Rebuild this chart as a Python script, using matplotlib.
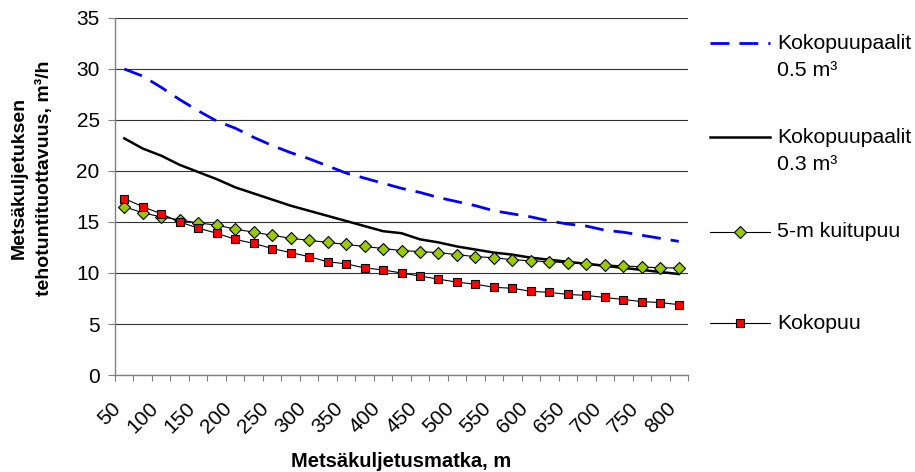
import numpy as np
import matplotlib.pyplot as plt
import matplotlib.transforms as mtransforms
from matplotlib.lines import Line2D

plt.rcParams['font.family'] = ['Liberation Sans', 'DejaVu Sans']

# forwarding distance categories (m)
distance = [50, 75, 100, 125, 150, 175, 200, 225, 250, 275, 300, 325, 350, 375, 400,
            425, 450, 475, 500, 525, 550, 575, 600, 625, 650, 675, 700, 725, 750, 775, 800]

# productivity, m3 per effective hour
paalit_05 = [30.0, 29.3, 28.2, 27.0, 25.9, 24.9, 24.2, 23.3, 22.5, 21.8, 21.2, 20.5, 19.8,
             19.3, 18.8, 18.3, 17.9, 17.4, 17.0, 16.6, 16.1, 15.8, 15.5, 15.1, 14.8, 14.6,
             14.2, 14.0, 13.7, 13.4, 13.1]
paalit_03 = [23.2, 22.2, 21.5, 20.6, 19.9, 19.2, 18.4, 17.8, 17.2, 16.6, 16.1, 15.6, 15.1,
             14.6, 14.1, 13.9, 13.3, 13.0, 12.6, 12.3, 12.0, 11.8, 11.5, 11.3, 11.1, 10.9,
             10.7, 10.5, 10.3, 10.1, 9.9]
kuitupuu_5m = [16.5, 15.9, 15.5, 15.2, 14.9, 14.7, 14.3, 14.0, 13.7, 13.4, 13.2, 13.0, 12.8,
               12.6, 12.4, 12.2, 12.1, 12.0, 11.8, 11.6, 11.5, 11.3, 11.2, 11.1, 11.0, 10.9,
               10.8, 10.7, 10.6, 10.5, 10.5]
kokopuu = [17.3, 16.5, 15.8, 15.0, 14.4, 13.9, 13.3, 12.9, 12.4, 12.0, 11.6, 11.1, 10.9,
           10.5, 10.3, 10.0, 9.7, 9.4, 9.1, 8.9, 8.6, 8.5, 8.2, 8.1, 7.9, 7.8, 7.6, 7.4,
           7.2, 7.1, 6.9]

series_names = ['Kokopuupaalit\n0.5 m³', 'Kokopuupaalit\n0.3 m³', '5-m kuitupuu', 'Kokopuu']

x = np.arange(len(distance))

fig = plt.figure(figsize=(9.15, 4.72), dpi=100)
ax = fig.add_axes([0.1257, 0.2055, 0.6262, 0.7564])

l1, = ax.plot(x, paalit_05, color='#0000ff', lw=2.0, dashes=(6.8, 3.6))
l2, = ax.plot(x, paalit_03, color='black', lw=1.8)
l3, = ax.plot(x, kuitupuu_5m, color='black', lw=0.8, marker='D', ms=6.2,
              mfc='#99cc00', mec='black', mew=0.8)
l4, = ax.plot(x, kokopuu, color='black', lw=0.8, marker='s', ms=5.2,
              mfc='#ff0000', mec='black', mew=0.8)

ax.set_xlim(-0.5, len(x) - 0.5)
ax.set_ylim(0, 35)
ax.set_yticks(range(0, 36, 5))
ax.set_xticks(x[::2])
ax.set_xticklabels([str(d) for d in distance[::2]], rotation=45, ha='right',
                   va='center', rotation_mode='anchor')
ax.set_xticks(np.arange(-0.5, len(x)), minor=True)
ax.tick_params(axis='x', which='major', length=0, pad=22, labelsize=15)
ax.tick_params(axis='x', which='minor', length=4.5, width=0.8, color='#808080')
ax.tick_params(axis='y', length=5, width=0.8, color='#808080', pad=6, labelsize=15)

# nudge the slanted labels a little left, like the original
shift = mtransforms.ScaledTranslation(-6 / 100, 0, fig.dpi_scale_trans)
for lab in ax.get_xticklabels():
    lab.set_transform(lab.get_transform() + shift)

ax.grid(axis='y', color='#333333', lw=0.8)
ax.set_axisbelow(True)
for s in ['top', 'right']:
    ax.spines[s].set_visible(False)
for s in ['left', 'bottom']:
    ax.spines[s].set_color('#808080')
    ax.spines[s].set_linewidth(1.0)

ax.set_ylabel('Metsäkuljetuksen\ntehotuntituottavuus, m³/h', fontsize=14,
              fontweight='bold', linespacing=1.6, va='center')
ax.yaxis.set_label_coords(0.0345, 0.622, transform=fig.transFigure)
ax.set_xlabel('Metsäkuljetusmatka, m', fontsize=14.5, fontweight='bold', va='center')
ax.xaxis.set_label_coords(0.4388, 0.023, transform=fig.transFigure)

# legend drawn by hand to keep the handle on the first text line
leg_y = [0.908, 0.709, 0.509, 0.315]
for line, name, y in zip([l1, l2, l3, l4], series_names, leg_y):
    h = Line2D([0.776, 0.8415], [y, y], transform=fig.transFigure,
               color=line.get_color(), lw=line.get_linewidth(),
               linestyle=line.get_linestyle())
    if line is l1:
        h.set_dashes((6.8, 3.6))
    fig.add_artist(h)
    if line.get_marker() not in (None, 'None', ''):
        m = Line2D([0.809], [y], transform=fig.transFigure, linestyle='none',
                   marker=line.get_marker(), ms=line.get_markersize(),
                   mfc=line.get_markerfacecolor(), mec='black', mew=0.8)
        fig.add_artist(m)
    for k, part in enumerate(name.split('\n')):
        fig.text(0.849, y - k * 0.058, part, fontsize=15.3, va='center', ha='left')

fig.savefig('out.png', dpi=100)
